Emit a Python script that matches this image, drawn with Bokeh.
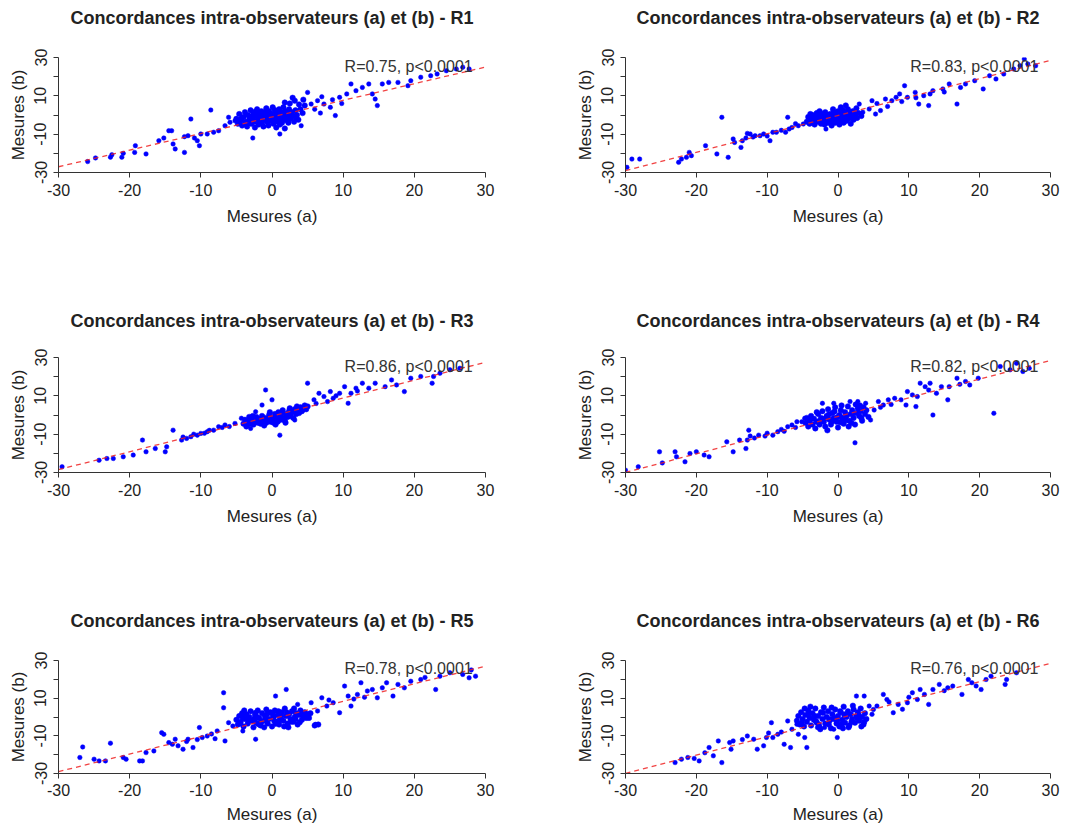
from bokeh.plotting import figure
from bokeh.layouts import column, row
from bokeh.models import Range1d, FixedTicker, Label, LinearAxis
from bokeh.embed import file_html
from bokeh.resources import INLINE

# ---------------- data ----------------
titles = ["Concordances intra-observateurs (a) et (b) - R%d" % i for i in range(1, 7)]
r_texts = ["R=0.75, p<0.0001", "R=0.83, p<0.0001", "R=0.86, p<0.0001",
           "R=0.82, p<0.0001", "R=0.78, p<0.0001", "R=0.76, p<0.0001"]
x_ticks = [-30, -20, -10, 0, 10, 20, 30]
y_ticks = [-30, -20, -10, 0, 10, 20, 30]
x_tick_text = {-30: "-30", -20: "-20", -10: "-10", 0: "0", 10: "10", 20: "20", 30: "30"}
y_tick_text = {-30: "-30", -20: "", -10: "-10", 0: "", 10: "10", 20: "", 30: "30"}

fit_a = [-30, 30]
fit_b = [[-27, 25], [-29, 28.5], [-28.5, 27.5], [-30, 28.5], [-29, 27], [-30, 28.5]]

r1 = [(-25.9,-24.3),(-24.8,-22.4),(-22.7,-22.0),(-22.5,-20.7),(-21.1,-22.0),(-20.9,-20.0),(-19.3,-19.5),(-19.2,-16.0),
      (-17.7,-20.3),(-15.9,-13.4),(-15.2,-12.0),(-14.5,-8.2),(-14.1,-8.2),(-13.9,-15.1),(-13.6,-17.7),(-12.3,-19.5),
      (-12.3,-11.3),(-11.8,-10.8),(-11.4,-2.1),(-10.9,-12.0),(-10.5,-13.4),(-10.2,-16.0),(-10.0,-9.9),(-9.1,-9.9),
      (-8.6,2.6),(-8.2,-9.0),(-7.5,-8.2),(-6.6,-5.6),(-6.1,-1.2),(-5.9,-3.8),(-5.2,-3.0),(-2.7,-12.0),(1.1,-9.9),
      (5.0,11.8),(4.1,-5.6),(5.5,5.7),(6.4,7.5),(7.3,5.7),(8.2,4.0),(8.9,-0.3),(9.5,9.2),(10.5,11.0),(11.1,16.2),
      (11.8,12.7),(12.7,14.4),(13.6,16.2),(14.1,11.0),(14.5,8.3),(14.8,4.9),(15.5,16.2),(16.4,17.0),(17.7,17.0),
      (19.1,15.3),(19.5,17.9),(20.9,19.7),(22.3,20.5),(23.2,21.4),(24.5,23.1),(25.9,24.0),(26.8,24.9),(27.7,24.0),
      (6.0,3.0),(7.0,9.5),(8.5,8.0),(9.8,6.0),(6.8,1.0)]
r1_core = [(-5.0,-2.0),(-4.8,-4.5),(-4.6,0.5),(-4.4,-3.0),(-4.2,-5.5),(-4.0,-1.0),(-3.8,1.5),(-3.7,-3.5),(-3.5,-6.0),
           (-3.4,0.0),(-3.2,-2.5),(-3.0,2.5),(-2.9,-4.5),(-2.8,-1.0),(-2.6,1.0),(-2.5,-3.5),(-2.4,-6.5),(-2.2,-0.5),
           (-2.1,3.0),(-2.0,-2.5),(-1.9,-5.0),(-1.8,0.5),(-1.6,-1.5),(-1.5,2.0),(-1.4,-4.0),(-1.3,-0.5),(-1.2,-6.0),
           (-1.0,1.5),(-0.9,-2.5),(-0.8,3.5),(-0.7,-3.5),(-0.6,0.0),(-0.5,-5.5),(-0.4,2.0),(-0.3,-1.5),(-0.2,-3.0),
           (0.0,0.5),(0.1,4.0),(0.2,-4.5),(0.3,-1.0),(0.4,2.5),(0.5,-2.5),(0.6,-6.5),(0.7,1.0),(0.8,-3.5),(0.9,-0.5),
           (1.0,3.0),(1.1,-5.0),(1.2,-2.0),(1.3,1.5),(1.4,-4.0),(1.5,0.0),(1.6,4.0),(1.7,-2.5),(1.8,-7.0),(1.9,2.0),
           (2.0,-1.0),(2.2,0.5),(2.3,-4.0),(2.4,3.0),(2.6,-2.0),(2.8,1.5),(3.0,-0.5),(3.1,-3.5),(3.3,2.5),(3.5,0.0),
           (3.7,-2.5),(4.0,3.0),(4.3,1.0),(4.6,5.0),(2.5,6.0),(3.2,7.5),(3.8,5.5),(4.4,8.0),(1.8,6.5),(2.9,9.0),
           (-4.3,-1.8),(-3.1,-0.8),(-2.3,1.8),(-1.1,-1.2),(-0.1,-2.0),(0.9,1.8),(2.1,-2.8),(3.4,-1.5),(-1.7,-3.2),
           (0.5,-0.2),(1.6,-1.2),(-2.7,-2.2),(-0.5,1.0),(2.7,-0.5),(-3.6,-4.8),(1.3,-3.0)]

r2 = [(-29.1,-23.0),(-28.0,-23.0),(-29.8,-27.3),(-22.5,-24.7),(-22.1,-23.0),(-21.4,-22.1),(-21.0,-19.5),(-20.7,-21.2),
      (-18.7,-16.0),(-17.1,-20.3),(-16.4,-1.2),(-15.5,-22.1),(-14.8,-12.5),(-14.6,-14.3),(-13.7,-16.9),(-13.5,-13.4),
      (-12.8,-9.6),(-12.4,-9.9),(-11.7,-10.8),(-11.0,-10.8),(-10.5,-9.9),(-9.6,-13.4),(-9.2,-9.0),(-8.7,-9.0),
      (-7.4,-9.0),(-7.1,-1.2),(-6.9,-7.3),(-6.5,-6.5),(-5.6,-5.6),(-4.9,-4.7),(-1.7,-7.3),(3.0,5.7),(3.5,1.4),
      (4.4,3.1),(4.8,7.5),(5.3,0.5),(6.0,2.3),(6.7,8.3),(7.6,7.5),(8.2,9.2),(8.7,11.0),(9.4,15.3),(9.8,9.2),
      (10.9,11.8),(11.4,5.7),(12.1,10.1),(12.8,4.9),(13.4,12.7),(14.8,13.6),(15.7,16.2),(16.8,5.7),(17.3,14.4),
      (18.0,16.2),(19.3,17.9),(20.5,13.6),(21.4,20.5),(22.3,18.8),(23.4,21.4),(24.8,24.0),(25.7,25.7),(26.3,29.2),
      (26.8,26.6),(27.9,25.7),(-12.0,-11.5),(-10.0,-11.0),(-8.0,-8.0),(-6.0,-4.5),(-13.0,-12.0),(5.5,6.0),
      (7.0,4.5),(9.0,7.0),(11.0,9.0),(13.0,11.0),(15.0,12.0)]
r2_core = [(-4.4,-3.5),(-4.2,-1.0),(-4.0,-4.5),(-3.8,-2.0),(-3.6,0.0),(-3.5,-3.0),(-3.3,-5.0),(-3.1,-1.5),(-3.0,1.0),
           (-2.8,-3.5),(-2.7,-0.5),(-2.5,-2.5),(-2.4,-4.5),(-2.2,0.5),(-2.1,-1.5),(-2.0,-3.5),(-1.8,1.5),(-1.7,-2.5),
           (-1.5,-0.5),(-1.4,-4.0),(-1.3,-1.5),(-1.1,0.5),(-1.0,-3.0),(-0.9,-5.5),(-0.8,-1.0),(-0.6,1.5),(-0.5,-2.0),
           (-0.4,-4.0),(-0.3,0.0),(-0.1,-3.0),(0.0,2.0),(0.1,-1.0),(0.2,-5.0),(0.3,0.5),(0.5,-2.5),(0.6,-0.5),
           (0.7,2.5),(0.8,-4.0),(0.9,-1.5),(1.0,1.0),(1.2,-3.0),(1.3,0.0),(1.4,3.0),(1.5,-2.0),(1.7,1.5),(1.8,-4.5),
           (1.9,-0.5),(2.1,2.0),(2.2,-2.5),(2.4,0.5),(2.6,3.5),(2.7,-1.5),(-2.6,2.0),(-1.9,-5.0),(-0.7,3.0),(0.4,4.0),
           (1.1,5.0),(-3.9,0.5),(2.9,1.0),(3.3,-0.5),(-3.4,-1.2),(-2.3,-2.8),(-1.2,-0.2),(-0.2,-1.8),(0.8,0.0),
           (1.6,-0.8),(2.4,-1.0),(-1.6,-3.8),(0.4,-3.2),(-3.8,-3.2)]

r3 = [(-29.5,-27.0),(-24.3,-23.6),(-23.2,-22.7),(-22.3,-22.7),(-20.9,-21.8),(-19.5,-20.9),(-18.2,-13.1),(-17.7,-19.2),
      (-16.4,-17.5),(-15.0,-19.2),(-14.8,-16.6),(-13.9,-7.9),(-12.7,-13.1),(-12.0,-12.2),(-11.4,-11.3),(-10.5,-10.5),
      (-10.0,-9.6),(-9.1,-8.7),(-8.2,-7.9),(-7.5,-6.1),(-6.6,-5.2),(-5.2,-4.4),(-4.3,-1.7),(-3.6,-3.5),(-3.0,-7.0),
      (-2.7,-0.9),(-2.3,1.7),(-1.4,5.2),(-0.9,13.1),(0.0,7.9),(1.1,-10.5),(3.2,-2.6),(5.0,16.6),(5.9,7.9),(6.6,11.3),
      (7.3,9.6),(8.2,12.2),(8.6,8.7),(9.5,11.3),(10.2,14.8),(10.7,6.1),(11.1,11.3),(11.8,14.0),(12.7,16.6),
      (13.6,14.0),(14.5,16.6),(15.9,14.8),(16.8,18.3),(17.5,15.7),(18.6,12.2),(19.5,19.2),(20.9,20.1),(22.5,16.6),
      (22.7,20.1),(23.6,21.8),(25.0,23.6),(26.4,24.4),(-11.0,-10.0),(-9.5,-9.5),(-8.8,-8.0),(-7.0,-6.5),(-6.0,-6.0),
      (-12.5,-11.5),(6.2,6.0),(9.0,10.0),(12.0,12.5),(7.8,7.0)]
r3_core = [(-4.0,-4.5),(-3.8,-2.5),(-3.6,-6.0),(-3.4,-3.5),(-3.2,-1.0),(-3.0,-4.5),(-2.8,-2.5),(-2.6,-5.0),(-2.4,-3.0),
           (-2.2,-1.0),(-2.0,-4.0),(-1.8,-2.0),(-1.6,-4.5),(-1.4,-0.5),(-1.2,-3.0),(-1.0,-1.5),(-0.8,-4.0),(-0.6,-2.0),
           (-0.4,0.0),(-0.2,-3.5),(0.0,-1.5),(0.2,-4.0),(0.4,0.5),(0.6,-2.0),(0.8,-3.5),(1.0,-0.5),(1.2,-2.5),(1.4,1.0),
           (1.6,-1.5),(1.8,-3.0),(2.0,0.5),(2.2,-1.0),(2.4,2.0),(2.6,-0.5),(2.8,1.5),(3.0,-1.5),(3.2,3.0),(3.4,0.5),
           (3.6,2.5),(3.8,1.0),(4.0,4.0),(4.2,2.0),(4.4,3.5),(4.6,5.0),(4.8,3.0),(5.0,4.5),(-1.1,-5.5),(0.5,-5.0),
           (1.5,2.5),(2.5,3.5),(-0.3,1.5),(0.9,1.5),(3.5,4.5),(1.9,-4.0),(-2.7,-0.5),(-3.5,-5.2),(-2.1,-2.2),
           (-0.9,-2.8),(0.3,-2.6),(1.3,-1.2),(2.3,0.2),(3.3,1.8),(4.3,2.8),(-1.5,-3.5),(0.7,-0.8)]

r4 = [(-30.0,-28.8),(-28.2,-27.0),(-25.2,-19.2),(-24.8,-25.0),(-23.0,-19.2),(-22.8,-21.8),(-21.6,-24.4),(-20.9,-20.1),
      (-20.0,-19.2),(-18.9,-20.9),(-18.2,-21.8),(-15.7,-14.0),(-14.8,-19.2),(-13.9,-13.1),(-13.0,-17.5),(-12.8,-13.1),
      (-12.6,-7.9),(-12.4,-11.0),(-11.2,-10.5),(-10.3,-11.0),(-9.2,-10.5),(-8.5,-8.7),(-7.1,-6.1),(-6.5,-5.2),
      (-5.8,-3.5),(-5.1,-3.5),(-4.7,-1.7),(-2.2,6.1),(-0.6,6.1),(2.4,-14.5),(1.7,7.0),(2.8,7.0),(3.9,6.1),(4.6,-2.6),
      (5.1,2.6),(5.7,7.0),(6.4,5.2),(7.1,7.9),(8.0,8.7),(8.9,7.9),(9.6,5.2),(9.8,12.2),(11.0,4.4),(11.2,9.6),
      (11.6,16.6),(12.3,14.8),(13.0,16.6),(13.4,0.0),(13.9,11.3),(14.6,14.8),(15.5,7.9),(15.7,14.8),(16.8,19.2),
      (18.0,17.5),(18.6,15.7),(19.8,19.2),(22.0,0.9),(22.9,25.3),(24.3,23.6),(25.2,27.0),(26.1,22.7),(27.0,24.4),
      (-11.8,-12.0),(-10.0,-9.5),(-8.0,-7.5),(-6.0,-6.5),(-7.6,-8.5),(6.0,4.0),(7.5,5.5),(10.5,10.5),(12.8,13.0),
      (17.2,16.0)]
r4_core = [(-4.6,-4.0),(-4.4,-1.5),(-4.2,-6.0),(-4.0,-3.0),(-3.8,-0.5),(-3.6,-5.0),(-3.4,-2.0),(-3.2,-7.0),(-3.0,-3.5),
           (-2.8,0.5),(-2.6,-5.0),(-2.4,-1.5),(-2.2,2.0),(-2.0,-3.5),(-1.8,-6.0),(-1.6,-0.5),(-1.4,3.0),(-1.2,-2.5),
           (-1.0,-5.0),(-0.8,1.0),(-0.6,-1.5),(-0.4,4.0),(-0.2,-3.5),(0.0,-6.5),(0.2,0.0),(0.4,2.5),(0.6,-2.0),
           (0.8,-4.5),(1.0,1.5),(1.2,-0.5),(1.4,4.5),(1.6,-3.0),(1.8,0.5),(2.0,2.5),(2.2,-1.5),(2.4,-5.0),(2.6,1.0),
           (2.8,3.5),(3.0,-0.5),(3.2,2.0),(3.4,-3.0),(3.6,4.0),(3.8,0.5),(4.0,2.5),(4.3,-1.0),(-1.5,-8.0),(0.5,5.0),
           (-3.0,1.5),(1.5,-6.0),(2.5,5.5),(-0.9,-3.5),(0.9,-1.0),(-2.3,-2.5),(3.1,5.0),(-3.9,-1.8),(-2.7,-3.2),
           (-1.3,0.2),(-0.1,-1.2),(1.1,-2.8),(2.1,0.8),(3.3,-1.6),(-0.5,1.8),(0.3,-3.8),(1.9,-4.2),(-1.9,-2.0)]

r5 = [(-27.0,-21.5),(-26.6,-15.9),(-25.0,-22.4),(-24.3,-23.3),(-23.4,-23.3),(-22.7,-13.9),(-20.9,-21.5),(-20.5,-22.4),
      (-18.6,-23.3),(-18.2,-23.3),(-17.7,-18.9),(-16.6,-18.0),(-15.5,-8.3),(-15.2,-9.2),(-14.5,-13.6),(-13.6,-11.8),
      (-13.2,-15.3),(-12.5,-17.1),(-11.8,-11.8),(-11.1,-16.2),(-10.2,-5.6),(-9.8,-10.9),(-9.1,-10.1),(-7.7,-7.4),
      (-6.8,12.9),(-6.8,4.9),(-6.6,-12.7),(-6.1,-3.0),(-5.5,-4.8),(-4.1,-7.4),(-2.3,-11.8),(0.5,11.1),(2.0,14.6),
      (3.6,6.7),(6.1,-3.9),(5.5,7.6),(6.4,3.2),(7.0,10.2),(7.7,5.8),(8.6,7.6),(9.5,2.3),(10.2,16.4),(10.7,11.1),
      (11.1,5.8),(12.0,12.0),(12.5,18.2),(13.4,13.8),(14.1,14.6),(14.8,10.2),(15.5,15.5),(16.1,18.2),(17.0,11.1),
      (17.7,17.3),(18.6,15.5),(19.5,19.0),(20.9,19.9),(23.0,14.6),(23.6,21.7),(25.0,23.5),(26.8,22.6),(27.7,20.8),
      (28.6,21.7),(-12.0,-13.0),(-10.5,-12.0),(-8.5,-9.0),(-14.0,-14.5),(-8.0,-11.5),(8.0,9.0),(11.5,9.5),
      (13.0,10.5),(21.5,21.0),(28.0,25.0)]
r5_core = [(-5.0,-1.5),(-4.8,-4.0),(-4.6,0.5),(-4.4,-2.5),(-4.2,2.0),(-4.0,-5.0),(-3.8,-1.0),(-3.6,1.5),(-3.4,-3.5),
           (-3.2,0.0),(-3.0,3.0),(-2.8,-2.0),(-2.6,-5.5),(-2.4,1.0),(-2.2,-3.0),(-2.0,3.5),(-1.8,-0.5),(-1.6,-4.5),
           (-1.4,2.0),(-1.2,-2.0),(-1.0,0.5),(-0.8,4.0),(-0.6,-3.5),(-0.4,-1.0),(-0.2,2.5),(0.0,-5.0),(0.2,0.0),
           (0.4,3.5),(0.6,-2.5),(0.8,1.0),(1.0,-4.0),(1.2,-0.5),(1.4,2.5),(1.6,-2.0),(1.8,4.5),(2.0,0.5),(2.2,-3.5),
           (2.4,1.5),(2.6,-1.0),(2.8,3.0),(3.0,-2.5),(3.2,0.0),(3.4,2.0),(3.6,-4.0),(3.8,1.0),(4.0,3.5),(4.2,-1.5),
           (4.4,0.5),(4.6,2.5),(4.8,-0.5),(5.0,1.5),(-3.9,3.5),(-2.5,-1.0),(-1.1,-5.5),(0.3,-2.0),(1.7,-5.0),(3.1,4.5),
           (-0.7,1.5),(0.9,3.0),(2.3,-5.5),(-4.5,-3.5),(5.2,-0.5),(5.4,2.0),(6.0,-4.5),(6.5,-4.0),(-2.1,0.0),(1.3,0.5),
           (-1.5,-2.5),(2.7,-2.5),(-4.1,-0.2),(-3.3,-2.2),(-2.3,2.2),(-0.9,-1.8),(0.1,1.4),(1.1,-1.6),(2.1,2.4),
           (3.3,-1.2),(4.3,1.8),(-1.9,-3.8),(0.5,-3.6),(3.9,-2.8)]

r6 = [(-23.0,-24.2),(-22.1,-22.4),(-21.2,-21.5),(-20.3,-22.0),(-19.6,-23.3),(-18.2,-16.2),(-17.6,-20.6),(-16.9,-12.7),
      (-16.4,-24.2),(-15.3,-13.6),(-14.8,-12.7),(-15.1,-17.1),(-12.8,-10.1),(-11.9,-11.8),(-11.4,-17.1),(-10.5,-15.3),
      (-10.1,-10.9),(-9.4,-3.0),(-9.2,-10.9),(-8.5,-9.2),(-7.6,-14.5),(-7.1,-2.1),(-6.7,-16.2),(-6.5,-6.5),(-5.8,-3.9),
      (-5.6,-9.2),(-4.7,-10.9),(-4.4,-16.2),(-2.9,-5.6),(-1.9,-5.6),(-0.6,-6.5),(-0.1,-10.9),(2.6,11.1),(3.7,11.1),
      (4.4,5.8),(4.8,1.4),(5.5,5.8),(6.4,12.0),(6.9,9.3),(7.8,2.3),(8.5,6.7),(9.1,4.1),(9.8,7.6),(10.5,12.9),
      (11.2,9.3),(11.6,14.6),(12.8,6.7),(13.4,14.6),(14.3,17.3),(15.5,15.5),(16.2,16.4),(17.5,12.0),(18.4,19.9),
      (18.9,18.2),(20.2,14.6),(20.9,19.9),(21.6,21.7),(23.6,17.3),(23.8,19.9),(25.2,23.5),(-13.5,-12.0),(-8.0,-8.0),
      (-9.8,-8.5),(-18.8,-19.0),(5.0,4.0),(7.2,8.0),(10.0,10.5),(12.2,12.0),(15.0,14.0),(19.5,16.5)]
r6_core = [(-5.8,-2.0),(-5.6,0.5),(-5.4,-4.0),(-5.2,2.5),(-5.0,-1.0),(-4.8,-5.0),(-4.6,1.0),(-4.4,-2.5),(-4.2,3.5),
           (-4.0,-0.5),(-3.8,-4.5),(-3.6,2.0),(-3.4,-1.5),(-3.2,4.5),(-3.0,-3.0),(-2.8,0.5),(-2.6,-5.5),(-2.4,2.5),
           (-2.2,-1.0),(-2.0,5.0),(-1.8,-3.5),(-1.6,0.0),(-1.4,3.0),(-1.2,-2.0),(-1.0,-6.0),(-0.8,1.5),(-0.6,-1.0),
           (-0.4,4.0),(-0.2,-3.5),(0.0,0.5),(0.2,-5.0),(0.4,2.5),(0.6,-1.5),(0.8,5.5),(1.0,-3.0),(1.2,0.0),(1.4,3.0),
           (1.6,-4.5),(1.8,1.5),(2.0,-1.0),(2.2,4.0),(2.4,-3.0),(2.6,0.5),(2.8,2.5),(3.0,-2.0),(3.2,4.5),(3.4,0.0),
           (3.6,-4.0),(3.8,2.0),(4.0,-1.0),(-3.9,5.5),(-2.5,-6.5),(-0.9,5.0),(0.7,-6.0),(2.1,6.0),(-4.7,4.5),
           (-1.3,-4.0),(0.3,3.0),(1.5,-5.5),(3.3,-5.0),(-3.3,0.5),(-0.5,-0.5),(1.1,1.5),(2.7,-0.5),(-5.1,-3.0),
           (-4.1,1.8),(-3.1,-2.2),(-2.1,2.2),(-1.1,-1.2),(-0.1,-2.0),(0.9,1.0),(1.9,-2.6),(2.9,1.2),(3.7,-2.6),
           (-2.7,-4.0),(0.5,-3.8)]

tails = [r1, r2, r3, r4, r5, r6]
cores = [r1_core, r2_core, r3_core, r4_core, r5_core, r6_core]

# ---------------- styling ----------------
FONT = "Liberation Sans"
TXT = "#222222"


def make_panel(i, width, height, bl, br, bt, bb, title_gap, last_row):
    p = figure(width=width, height=height, x_range=Range1d(-30, 30), y_range=Range1d(-30, 30),
               output_backend="svg", toolbar_location=None,
               min_border_left=bl, min_border_right=br, min_border_top=bt, min_border_bottom=bb)
    p.outline_line_color = None
    p.grid.visible = False

    for ax in (p.xaxis[0], p.yaxis[0]):
        ax.axis_line_color = "#333333"
        ax.major_tick_line_color = "#333333"
        ax.major_tick_out = 5
        ax.major_tick_in = 0
        ax.minor_tick_out = 0
        ax.minor_tick_in = 0
        ax.major_label_text_font = FONT
        ax.major_label_text_font_size = "16px"
        ax.major_label_text_color = TXT
        ax.axis_label_text_font = FONT
        ax.axis_label_text_font_size = "17px"
        ax.axis_label_text_font_style = "normal"
        ax.axis_label_text_color = TXT
    p.xaxis.ticker = FixedTicker(ticks=x_ticks)
    p.yaxis.ticker = FixedTicker(ticks=y_ticks)
    p.xaxis.major_label_overrides = x_tick_text
    p.yaxis.major_label_overrides = y_tick_text
    p.yaxis.major_label_orientation = "vertical"
    p.xaxis.axis_label = "Mesures (a)"
    p.yaxis.axis_label = "Mesures (b)"
    p.yaxis.major_label_standoff = 7
    p.yaxis.axis_label_standoff = 4
    if last_row:
        p.xaxis.major_label_standoff = 5
        p.xaxis.axis_label_standoff = 6
    else:
        p.xaxis.major_label_standoff = 6
        p.xaxis.axis_label_standoff = 8

    # panel title: label of an invisible axis above the frame, centred over it
    top = LinearAxis(ticker=FixedTicker(ticks=[]), axis_line_color=None,
                     major_tick_out=0, major_tick_in=0, minor_tick_out=0, minor_tick_in=0,
                     major_label_text_font_size="1px", major_label_standoff=0,
                     axis_label=titles[i], axis_label_standoff=title_gap,
                     axis_label_text_font=FONT, axis_label_text_font_size="18px",
                     axis_label_text_font_style="bold", axis_label_text_color=TXT)
    p.add_layout(top, "above")

    p.scatter([q[0] for q in tails[i]], [q[1] for q in tails[i]], size=4.5, color="#0000ff", line_width=0.5)
    p.scatter([q[0] for q in cores[i]], [q[1] for q in cores[i]], size=5.5, color="#0000ff", line_width=0.5)
    p.line(fit_a, fit_b[i], line_color="#ee2222", line_dash="5 4", line_width=1.3, line_alpha=0.85)
    p.add_layout(Label(x=10.2, y=25.5, text=r_texts[i], text_font=FONT, text_font_size="16px",
                       text_color="#333333", text_baseline="middle", text_align="left"))
    return p


# (height, border top, border bottom, title gap, last row)
rows_spec = [(300, 57, 128, 30, False), (300, 57, 128, 27, False), (226, 60, 53, 30, True)]
rows = []
k = 0
for h, bt, bb, gap, last in rows_spec:
    left = make_panel(k, 548, h, 58, 63, bt, bb, gap, last)
    right = make_panel(k + 1, 532, h, 77, 30, bt, bb, gap, last)
    rows.append(row(left, right))
    k += 2

layout = column(*rows)
open("out.html", "w").write(file_html(layout, INLINE))
